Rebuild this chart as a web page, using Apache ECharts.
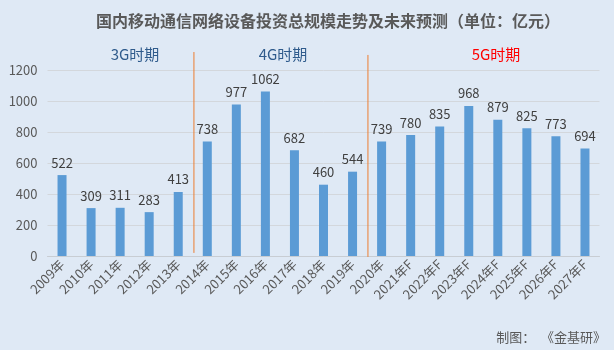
<!DOCTYPE html>
<html>
<head>
<meta charset="utf-8">
<script src="https://cdn.jsdelivr.net/npm/echarts@6/dist/echarts.min.js"></script>
<style>
  html, body { margin: 0; padding: 0; background: #dfe9f5; }
  #chart { width: 614px; height: 350px; }
</style>
</head>
<body>
<div id="chart"></div>
<script>
// Years (F = forecast)
const years = ['2009年','2010年','2011年','2012年','2013年','2014年','2015年','2016年','2017年','2018年','2019年',
  '2020年','2021年F','2022年F','2023年F','2024年F','2025年F','2026年F','2027年F'];
// Investment, 亿元
const investment = [522, 309, 311, 283, 413, 738, 977, 1062, 682, 460, 544, 739, 780, 835, 968, 879, 825, 773, 694];
// Y axis ticks
const yTicks = [0, 200, 400, 600, 800, 1000, 1200];
// Period dividers, in category units (between 2013/2014 and 2019/2020)
const dividers = [
  { x: 4.54, top: 1316, bottom: 20 },
  { x: 10.53, top: 1297, bottom: -6 }
];
// Period labels
const periods = [
  { text: '3G时期', x: 135, color: '#2f5b8c' },
  { text: '4G时期', x: 283, color: '#2f5b8c' },
  { text: '5G时期', x: 496, color: '#ff0000' }
];

const chart = echarts.init(document.getElementById('chart'));
const font = '"Microsoft YaHei", "Noto Sans CJK SC", sans-serif';

const option = {
  backgroundColor: '#dfe9f5',
  animation: false,
  textStyle: { fontFamily: font },
  title: {
    text: '国内移动通信网络设备投资总规模走势及未来预测（单位：亿元）',
    left: 323, top: 8, textAlign: 'center',
    textStyle: { fontSize: 16, fontWeight: 'bold', color: '#595959', fontFamily: font }
  },
  graphic: periods.map(p => ({
    type: 'text', x: p.x, y: 54,
    style: { text: p.text, fontSize: 15, fill: p.color, fontFamily: font,
             textAlign: 'center', textVerticalAlign: 'middle' }
  })).concat([{
    type: 'text', right: 8, top: 331,
    style: { text: '制图：  《金基研》', fontSize: 13, fill: '#595959', fontFamily: font }
  }]),
  grid: { left: 47.5, right: 14.5, top: 70, bottom: 94 },
  xAxis: [{
    type: 'category', data: years,
    axisLine: { lineStyle: { color: '#c8cdd3' } },
    axisTick: { show: false },
    axisLabel: { rotate: 45, interval: 0, fontSize: 13, color: '#595959', margin: 6 }
  }, {
    type: 'value', min: -0.5, max: years.length - 0.5, show: false
  }],
  yAxis: {
    type: 'value', min: yTicks[0], max: yTicks[yTicks.length - 1], interval: 200,
    axisLine: { show: false }, axisTick: { show: false },
    axisLabel: { fontSize: 13, color: '#595959', margin: 10, formatter: v => String(v) },
    splitLine: { lineStyle: { color: '#d3d7dc' } }
  },
  series: [{
    type: 'bar', data: investment, barWidth: 9,
    itemStyle: { color: '#5b9bd5' },
    label: { show: true, position: 'top', distance: 6, fontSize: 13, color: '#404040' }
  }].concat(dividers.map(d => ({
    type: 'line', xAxisIndex: 1, clip: false, symbol: 'none', silent: true,
    data: [[d.x, d.top], [d.x, d.bottom]],
    lineStyle: { color: '#ed7d31', width: 1 }
  })))
};
chart.setOption(option);
</script>
</body>
</html>
